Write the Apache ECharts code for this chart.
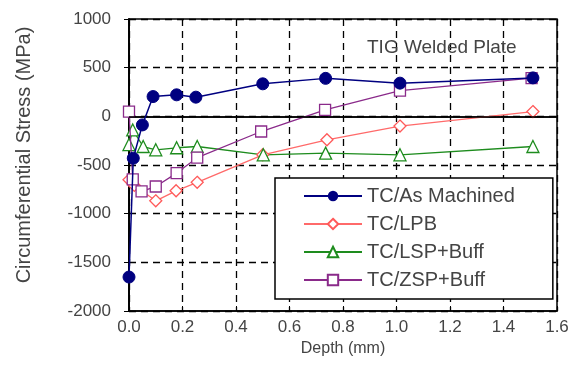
<!DOCTYPE html>
<html>
<head>
<meta charset="utf-8">
<script src="https://cdn.jsdelivr.net/npm/echarts@6/dist/echarts.min.js"></script>
<style>html,body{margin:0;padding:0;background:#fff;}#c{width:572px;height:390px;}</style>
</head>
<body>
<div id="c"></div>
<script>
const xTicks = [0, 0.2, 0.4, 0.6, 0.8, 1.0, 1.2, 1.4, 1.6];
const yTicks = [-2000, -1500, -1000, -500, 0, 500, 1000];

const depthAM = [0, 0.016, 0.05, 0.09, 0.178, 0.25, 0.5, 0.735, 1.013, 1.51];
const stressAM = [-1651, -430, -88, 203, 221, 197, 334, 390, 341, 395];

const depthLPB = [0, 0.02, 0.1, 0.176, 0.255, 0.5, 0.74, 1.013, 1.51];
const stressLPB = [-652, -710, -868, -765, -678, -395, -241, -100, 49];

const depthLSP = [0, 0.014, 0.053, 0.1, 0.178, 0.255, 0.502, 0.735, 1.013, 1.51];
const stressLSP = [-290, -140, -310, -344, -323, -310, -395, -378, -395, -310];

const depthZSP = [0, 0.014, 0.047, 0.1, 0.178, 0.255, 0.494, 0.733, 1.013, 1.505];
const stressZSP = [49, -648, -770, -721, -583, -425, -156, 67, 265, 392];

const seriesNames = ['TC/As Machined', 'TC/LPB', 'TC/LSP+Buff', 'TC/ZSP+Buff'];
const titleText = 'TIG Welded Plate';

function pairs(xs, ys) { return xs.map((x, i) => [x, ys[i]]); }

const FONT = "'Liberation Sans', Arial, sans-serif";
const TXT = '#444';

const chart = echarts.init(document.getElementById('c'), null, {renderer: 'canvas'});
const dashed = {show: true, lineStyle: {color: '#000', width: 1.3, type: [7, 5]}};

chart.setOption({
  animation: false,
  backgroundColor: '#fff',
  title: {
    text: titleText, left: 362, top: 33,
    textStyle: {fontFamily: FONT, fontSize: 19, fontWeight: 'normal', color: TXT}
  },
  grid: {left: 129, right: 15, top: 19, bottom: 79, show: true, borderColor: '#000', borderWidth: 1.5, backgroundColor: 'transparent'},
  legend: {
    left: 275, top: 178, orient: 'vertical',
    padding: [8, 38, 9, 28],
    itemWidth: 58, itemHeight: 13, itemGap: 8,
    backgroundColor: '#fff', borderColor: '#000', borderWidth: 1.5,
    textStyle: {fontFamily: FONT, fontSize: 20, color: TXT},
    data: seriesNames
  },
  xAxis: [{
    type: 'value', min: 0, max: 1.6, interval: 0.2,
    name: 'Depth (mm)', nameLocation: 'middle', nameGap: 25,
    nameTextStyle: {fontFamily: FONT, fontSize: 16, color: TXT},
    axisLine: {show: true, onZero: false, lineStyle: {color: '#000', width: 1.5}},
    axisTick: {show: true, inside: true, length: 5, lineStyle: {color: '#000'}},
    axisLabel: {fontFamily: FONT, fontSize: 17, color: TXT, margin: 8, formatter: v => v.toFixed(1)},
    splitLine: dashed
  }, {
    type: 'value', position: 'top', min: 0, max: 1.6, interval: 0.2,
    axisLine: {show: true, lineStyle: {color: '#000', width: 1.5}},
    axisTick: {show: true, inside: true, length: 5, lineStyle: {color: '#000'}},
    axisLabel: {show: false}, splitLine: {show: false}
  }],
  yAxis: [{
    type: 'value', min: -2000, max: 1000, interval: 500,
    name: 'Circumferential Stress (MPa)', nameLocation: 'middle', nameGap: 95,
    nameTextStyle: {fontFamily: FONT, fontSize: 20, color: TXT, padding: [0, 0, 0, 20]},
    axisLine: {show: true, onZero: false, lineStyle: {color: '#000', width: 1.5}},
    axisTick: {show: true, inside: true, length: 5, lineStyle: {color: '#000'}},
    axisLabel: {fontFamily: FONT, fontSize: 17, color: TXT, margin: 18, formatter: v => String(v)},
    splitLine: dashed
  }, {
    type: 'value', position: 'right', min: -2000, max: 1000, interval: 500,
    axisLine: {show: true, lineStyle: {color: '#000', width: 1.5}},
    axisTick: {show: true, inside: true, length: 5, lineStyle: {color: '#000'}},
    axisLabel: {show: false}, splitLine: {show: false}
  }],
  series: [
    {
      name: seriesNames[0], type: 'line', data: pairs(depthAM, stressAM), z: 5,
      symbol: 'circle', symbolSize: 12,
      itemStyle: {color: '#000080', borderColor: '#000080'},
      lineStyle: {color: '#000080', width: 1.5},
      markLine: {silent: true, symbol: 'none', label: {show: false},
        lineStyle: {color: '#000', width: 1.5, type: 'solid'}, data: [{yAxis: 0}]}
    },
    {
      name: seriesNames[1], type: 'line', data: pairs(depthLPB, stressLPB), z: 3,
      symbol: 'diamond', symbolSize: 12,
      itemStyle: {color: '#fff', borderColor: '#ff5a5a', borderWidth: 1.3},
      lineStyle: {color: '#ff6a6a', width: 1.3}
    },
    {
      name: seriesNames[2], type: 'line', data: pairs(depthLSP, stressLSP), z: 3,
      symbol: 'triangle', symbolSize: 12,
      itemStyle: {color: '#fff', borderColor: '#1e8c1e', borderWidth: 1.3},
      lineStyle: {color: '#1e8c1e', width: 1.3}
    },
    {
      name: seriesNames[3], type: 'line', data: pairs(depthZSP, stressZSP), z: 4,
      symbol: 'rect', symbolSize: 11,
      itemStyle: {color: '#fff', borderColor: '#8a2a8a', borderWidth: 1.3},
      lineStyle: {color: '#8a2a8a', width: 1.3}
    }
  ]
});
</script>
</body>
</html>
